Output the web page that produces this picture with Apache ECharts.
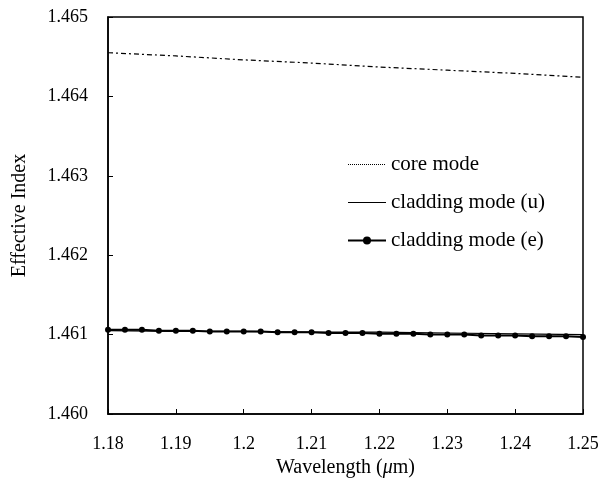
<!DOCTYPE html>
<html>
<head>
<meta charset="utf-8">
<script src="https://cdn.jsdelivr.net/npm/echarts@6/dist/echarts.min.js"></script>
<style>
  html, body { margin: 0; padding: 0; background: #fff; }
  #chart { width: 614px; height: 487px; }
</style>
</head>
<body>
<div id="chart"></div>
<script>
// wavelength (um) and effective index values
var coreX = [1.18, 1.19, 1.20, 1.21, 1.22, 1.23, 1.24, 1.25];
var coreMode = [1.46455, 1.46451, 1.46446, 1.46442, 1.46437, 1.46433, 1.46429, 1.46424];
var cladU = [1.46105, 1.46104, 1.46104, 1.46103, 1.46103, 1.46102, 1.46101, 1.46100];

var cladEX = [1.18, 1.1825, 1.185, 1.1875, 1.19, 1.1925, 1.195, 1.1975, 1.20, 1.2025,
  1.205, 1.2075, 1.21, 1.2125, 1.215, 1.2175, 1.22, 1.2225, 1.225, 1.2275,
  1.23, 1.2325, 1.235, 1.2375, 1.24, 1.2425, 1.245, 1.2475, 1.25];
var cladE = [1.46106, 1.46106, 1.46106, 1.46105, 1.46105, 1.46105, 1.46104, 1.46104, 1.46104, 1.46104,
  1.46103, 1.46103, 1.46103, 1.46102, 1.46102, 1.46102, 1.46101, 1.46101, 1.46101, 1.46100,
  1.46100, 1.46100, 1.46099, 1.46099, 1.46099, 1.46098, 1.46098, 1.46098, 1.46097];

var xTicks = { min: 1.18, max: 1.25, step: 0.01 };
var yTicks = { min: 1.460, max: 1.465, step: 0.001 };

function pairs(xs, ys) {
  return xs.map(function (x, i) { return [x, ys[i]]; });
}

var font = "Liberation Serif";
var myChart = echarts.init(document.getElementById("chart"));
var option = {
  backgroundColor: "#fff",
  animation: false,
  textStyle: { fontFamily: font, color: "#000" },
  grid: {
    left: 108, right: 31, top: 17, bottom: 73,
    show: true, borderColor: "#000", borderWidth: 1.5
  },
  legend: {
    orient: "vertical",
    left: 342, top: 149,
    itemGap: 17,
    itemWidth: 38, itemHeight: 10,
    textStyle: { fontFamily: font, fontSize: 21, color: "#000" },
    data: [
      { name: "core mode", itemStyle: { opacity: 0 }, lineStyle: { type: "dotted", width: 1 } },
      { name: "cladding mode (u)", itemStyle: { opacity: 0 }, lineStyle: { width: 1.2 } },
      { name: "cladding mode (e)" }
    ]
  },
  xAxis: {
    type: "value",
    min: xTicks.min, max: xTicks.max, interval: xTicks.step,
    name: "Wavelength ({i|\u03bc}m)",
    nameLocation: "middle", nameGap: 44,
    nameTextStyle: {
      fontFamily: font, fontSize: 20, color: "#000",
      rich: { i: { fontFamily: font, fontSize: 20, fontStyle: "italic", color: "#000" } }
    },
    axisLine: { lineStyle: { color: "#000", width: 1.5 } },
    axisTick: { inside: true, length: 5, lineStyle: { color: "#000" } },
    axisLabel: { fontFamily: font, fontSize: 18, color: "#000", margin: 21 },
    splitLine: { show: false }
  },
  yAxis: {
    type: "value",
    min: yTicks.min, max: yTicks.max, interval: yTicks.step,
    name: "Effective Index",
    nameLocation: "middle", nameGap: 78,
    nameTextStyle: { fontFamily: font, fontSize: 20, color: "#000" },
    axisLine: { lineStyle: { color: "#000", width: 1.5 } },
    axisTick: { inside: true, length: 5, lineStyle: { color: "#000" } },
    axisLabel: {
      fontFamily: font, fontSize: 18, color: "#000", margin: 20,
      formatter: function (v) { return v.toFixed(3); }
    },
    splitLine: { show: false }
  },
  series: [
    {
      name: "core mode",
      type: "line",
      data: pairs(coreX, coreMode),
      symbol: "none",
      itemStyle: { color: "#000" },
      lineStyle: { color: "#000", width: 1.2, type: [5, 3, 2, 3] }
    },
    {
      name: "cladding mode (u)",
      type: "line",
      data: pairs(coreX, cladU),
      symbol: "none",
      itemStyle: { color: "#000" },
      lineStyle: { color: "#000", width: 1.2 }
    },
    {
      name: "cladding mode (e)",
      type: "line",
      data: pairs(cladEX, cladE),
      symbol: "circle",
      symbolSize: 6,
      showAllSymbol: true,
      itemStyle: { color: "#000" },
      lineStyle: { color: "#000", width: 2 }
    }
  ]
};
option && myChart.setOption(option);
</script>
</body>
</html>
